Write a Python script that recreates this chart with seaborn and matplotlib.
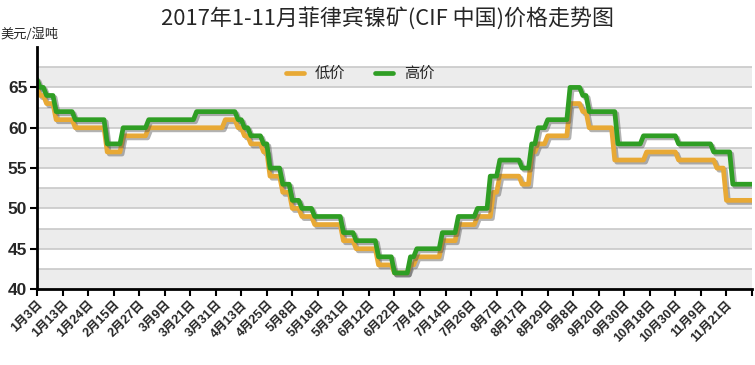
import numpy as np
import pandas as pd
import matplotlib
matplotlib.use('Agg')
import matplotlib.pyplot as plt
import matplotlib.patheffects as pe
import seaborn as sns

# chart text
title = '2017年1-11月菲律宾镍矿(CIF 中国)价格走势图'
unit = '美元/湿吨'
date_labels = ['1月3日', '1月13日', '1月24日', '2月15日', '2月27日', '3月9日',
               '3月21日', '3月31日', '4月13日', '4月25日', '5月8日', '5月18日',
               '5月31日', '6月12日', '6月22日', '7月4日', '7月14日', '7月26日',
               '8月7日', '8月17日', '8月29日', '9月8日', '9月20日', '9月30日',
               '10月18日', '10月30日', '11月9日', '11月21日', '']

# price changes: trading-day index where a new price starts, and the price
n_days = 225
low_days = [0, 1, 3, 6, 12, 22, 27, 35, 59, 63, 65, 67, 71, 73, 77, 80, 83, 87,
            96, 100, 107, 112, 117, 119, 127, 132, 138, 143, 145, 152, 155, 157,
            160, 167, 171, 173, 181, 191, 201, 213, 216]
low_vals = [65, 64, 63, 61, 60, 57, 59, 60, 61, 60, 59, 58, 57, 54, 52, 50, 49, 48,
            46, 45, 43, 42, 43, 44, 46, 48, 49, 52, 54, 53, 57, 58,
            59, 63, 62, 60, 56, 57, 56, 55, 51]
high_days = [0, 1, 3, 6, 12, 22, 27, 35, 50, 63, 65, 67, 71, 73, 77, 80, 83, 87,
             96, 100, 107, 112, 117, 119, 127, 132, 138, 142, 145, 152, 155, 157,
             160, 167, 171, 173, 182, 190, 201, 212, 218]
high_vals = [66, 65, 64, 62, 61, 58, 60, 61, 62, 61, 60, 59, 58, 55, 53, 51, 50, 49,
             47, 46, 44, 42, 44, 45, 47, 49, 50, 54, 56, 55, 58, 60,
             61, 65, 64, 62, 58, 59, 58, 57, 53]


def expand(days, vals):
    # hold each price until the next change
    return pd.Series(vals, index=days).reindex(range(n_days)).ffill().values


df = pd.DataFrame({'day': np.arange(n_days),
                   '低价': expand(low_days, low_vals),
                   '高价': expand(high_days, high_vals)})
df = df.melt(id_vars='day', var_name='type', value_name='price')

sns.set_theme(style='white')
plt.rcParams['font.family'] = ['Noto Sans CJK SC', 'DejaVu Sans']
tick_font = ['Liberation Sans', 'Noto Sans CJK SC']

fig = plt.figure(figsize=(7.55, 3.65), dpi=100)
ax = fig.add_axes([0.049, 0.208, 0.947, 0.663])

# alternating bands and grid every 2.5
for lo in np.arange(40, 70, 5):
    ax.axhspan(lo, lo + 2.5, color='#ececec', zorder=0, lw=0)
for g in np.arange(42.5, 68, 2.5):
    ax.axhline(g, color='#c8c8c8', lw=1.2, zorder=0.5)

sns.lineplot(data=df, x='day', y='price', hue='type',
             palette={'低价': '#e8a935', '高价': '#2f9e24'},
             linewidth=3.4, ax=ax, legend=False)

for line in ax.lines[-2:]:
    line.set_path_effects([pe.SimpleLineShadow(offset=(1.5, -1.5), shadow_color='#555555', alpha=0.45),
                           pe.Normal()])

ax.set_xlim(0, n_days - 1)
ax.set_ylim(40, 70)
ax.set_xticks(np.arange(0, n_days, 8))
ax.set_xticklabels(date_labels, rotation=45, ha='right', rotation_mode='anchor',
                   fontsize=9, fontweight='bold', family=tick_font)
ax.set_yticks(np.arange(40, 66, 5))
ax.set_yticklabels([str(v) for v in range(40, 66, 5)], fontsize=12.5,
                   fontweight='bold', family=tick_font)
ax.tick_params(axis='both', direction='out', length=5, width=1.5, color='black',
               bottom=True, left=True, pad=2)
ax.set_xlabel('')
ax.set_ylabel('')
for side in ['top', 'right']:
    ax.spines[side].set_visible(False)
for side in ['left', 'bottom']:
    ax.spines[side].set_color('black')
    ax.spines[side].set_linewidth(2)

handles = [plt.Line2D([], [], color='#e8a935', lw=3.4),
           plt.Line2D([], [], color='#2f9e24', lw=3.4)]
ax.legend(handles, ['低价', '高价'], loc='center', bbox_to_anchor=(0.452, 0.89),
          ncol=2, frameon=False, fontsize=11, handlelength=1.2, columnspacing=1.9,
          handletextpad=0.7)

fig.text(0.513, 0.95, title, ha='center', va='center', fontsize=15.8)
fig.text(0.0, 0.905, unit, ha='left', va='center', fontsize=9.5)

plt.savefig('out.png', dpi=100)
